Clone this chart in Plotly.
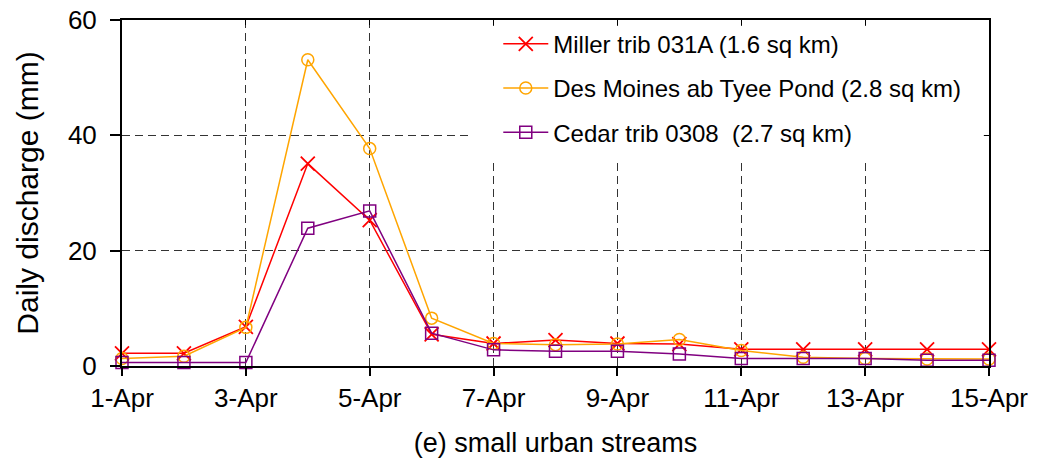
import plotly.graph_objects as go

days = list(range(1, 16))
tick_days = [1, 3, 5, 7, 9, 11, 13, 15]
tick_labels = ["1-Apr", "3-Apr", "5-Apr", "7-Apr", "9-Apr", "11-Apr", "13-Apr", "15-Apr"]
y_ticks = [0, 20, 40, 60]

miller = [2.2, 2.2, 6.8, 35.1, 25.3, 5.5, 3.9, 4.5, 3.9, 3.8, 2.9, 2.9, 2.9, 2.9, 2.9]
des_moines = [1.3, 1.7, 6.7, 53.1, 37.7, 8.3, 3.9, 3.7, 3.8, 4.6, 2.7, 1.5, 1.3, 1.2, 1.2]
cedar = [0.6, 0.6, 0.6, 23.9, 26.9, 5.7, 2.8, 2.55, 2.55, 2.1, 1.3, 1.3, 1.3, 1.0, 1.0]

names = ["Miller trib 031A (1.6 sq km)",
         "Des Moines ab Tyee Pond (2.8 sq km)",
         "Cedar trib 0308  (2.7 sq km)"]

FONT = "Liberation Sans, Arial, sans-serif"

fig = go.Figure()
fig.add_trace(go.Scatter(x=days, y=miller, name=names[0], mode="lines+markers",
                         line=dict(color="#FF0000", width=1.5),
                         marker=dict(symbol="x-thin-open", size=14, line=dict(color="#FF0000", width=1.8)),
                         cliponaxis=False, legendgroup="a"))
fig.add_trace(go.Scatter(x=days, y=des_moines, name=names[1], mode="lines+markers",
                         line=dict(color="#FFA500", width=1.5),
                         marker=dict(symbol="circle-open", size=12, color="#FFA500", line=dict(width=1.5)),
                         cliponaxis=False, legendgroup="b"))
fig.add_trace(go.Scatter(x=days, y=cedar, name=names[2], mode="lines+markers",
                         line=dict(color="#800080", width=1.5),
                         marker=dict(symbol="square-open", size=12, color="#800080", line=dict(width=1.5)),
                         cliponaxis=False, legendgroup="c"))
# dummy trace so the mirrored axes (inside ticks on top/right) are drawn
fig.add_trace(go.Scatter(x=[None], y=[None], xaxis="x2", yaxis="y2", showlegend=False,
                         hoverinfo="skip"))

# white legend box hiding the gridlines behind it (no data passes through this region)
fig.add_shape(type="rect", xref="paper", yref="paper", x0=0.401, x1=0.994, y0=0.595, y1=0.983,
              fillcolor="white", line=dict(width=0), layer="above")

fig.update_layout(
    width=1028, height=450,
    margin=dict(l=114, r=47, t=12, b=92, autoexpand=False),
    plot_bgcolor="white", paper_bgcolor="white",
    font=dict(family=FONT, size=26, color="black"),
    showlegend=True,
    legend=dict(x=0.434, y=0.995, xanchor="left", yanchor="top",
                bgcolor="rgba(0,0,0,0)", font=dict(size=24, family=FONT),
                tracegroupgap=10, itemwidth=45),
    xaxis=dict(range=[1, 15], tickvals=tick_days, ticktext=tick_labels, automargin=False,
               showline=True, linecolor="black", linewidth=2,
               ticks="outside", ticklen=8, tickwidth=1.5, tickcolor="black",
               showgrid=True, gridcolor="#333333", gridwidth=1, griddash="8px,5px",
               zeroline=False, tickfont=dict(size=26), ticklabeloverflow="allow",
               title=dict(text="(e) small urban streams", standoff=22,
                          font=dict(size=27))),
    yaxis=dict(range=[0, 60], tickvals=y_ticks, automargin=False,
               showline=True, linecolor="black", linewidth=2,
               ticks="outside", ticklen=10, tickwidth=1.5, tickcolor="black",
               showgrid=True, gridcolor="#333333", gridwidth=1, griddash="8px,5px",
               zeroline=False, tickfont=dict(size=26), ticklabelstandoff=8,
               ticklabeloverflow="allow",
               title=dict(text="Daily discharge (mm)", standoff=20,
                          font=dict(size=30))),
    xaxis2=dict(range=[1, 15], tickvals=tick_days, overlaying="x", side="top", automargin=False,
                anchor="y", showticklabels=False, showgrid=False, zeroline=False,
                showline=True, linecolor="black", linewidth=1.5,
                ticks="inside", ticklen=5, tickwidth=1, tickcolor="black"),
    yaxis2=dict(range=[0, 60], tickvals=y_ticks, overlaying="y", side="right", automargin=False,
                anchor="x", showticklabels=False, showgrid=False, zeroline=False,
                showline=True, linecolor="black", linewidth=1.5,
                ticks="inside", ticklen=5, tickwidth=1, tickcolor="black"),
)

fig.write_html("out.html")
